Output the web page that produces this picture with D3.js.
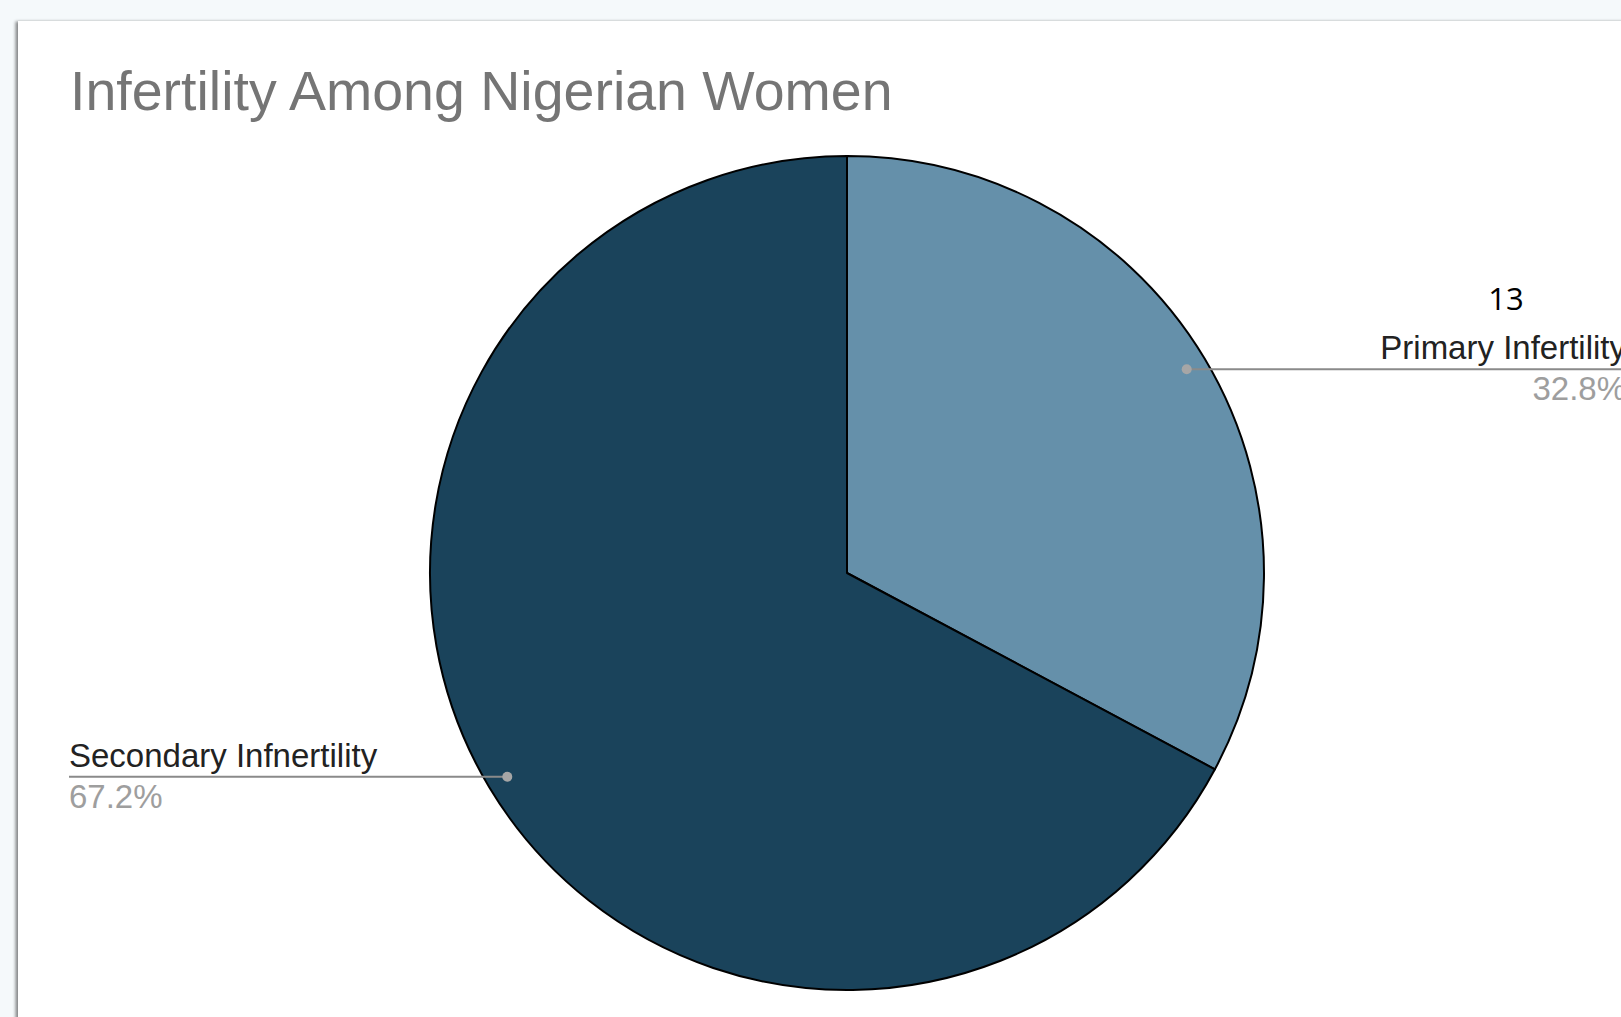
<!DOCTYPE html>
<html>
<head>
<meta charset="utf-8">
<script src="https://cdn.jsdelivr.net/npm/d3@7"></script>
<style>
  html, body { margin: 0; padding: 0; background: #f5f9fb; overflow: hidden; }
  svg { display: block; }
</style>
</head>
<body>
<svg id="chart"></svg>
<script>
(function () {
    'use strict';

    var categories = ['Primary Infertility', 'Secondary Infnertility'];
    var values = [32.8, 67.2];
    var colours = ['#6590aa', '#1a435b'];
    var countLabel = '13';

    var width = 1621, height = 1017;

    var svg = d3.select('#chart')
        .attr('width', width)
        .attr('height', height);

    // card + shadow on the left
    var defs = svg.append('defs');
    var f = defs.append('filter').attr('id', 'shadow')
        .attr('x', '-5%').attr('y', '-5%').attr('width', '110%').attr('height', '110%');
    f.append('feDropShadow').attr('dx', -2.5).attr('dy', 0.5)
        .attr('stdDeviation', 1.6).attr('flood-color', '#000').attr('flood-opacity', 0.45);

    svg.append('rect')
        .attr('x', 18).attr('y', 21)
        .attr('width', width).attr('height', height)
        .attr('fill', '#ffffff')
        .attr('filter', 'url(#shadow)');

    svg.append('text')
        .attr('x', 70)
        .attr('y', 110)
        .style('font-family', '"Liberation Sans", Arial, sans-serif')
        .style('font-size', '55.5px')
        .style('fill', '#757575')
        .text('Infertility Among Nigerian Women');

    var cx = 847, cy = 573, r = 417;

    var data = categories.map((c, i) => ({ name: c, value: values[i], colour: colours[i] }));

    var pie = d3.pie().sort(null).value(d => d.value);
    var arcs = pie(data);

    var arc = d3.arc().innerRadius(0).outerRadius(r);
    var dotArc = d3.arc().innerRadius(r * 0.95).outerRadius(r * 0.95);

    var g = svg.append('g').attr('transform', `translate(${cx},${cy})`);

    g.selectAll('path.slice')
        .data(arcs)
        .enter()
        .append('path')
        .attr('class', 'slice')
        .attr('d', arc)
        .style('fill', d => d.data.colour)
        .style('stroke', '#000')
        .style('stroke-width', 2)
        .style('stroke-linejoin', 'round');

    var labelFont = '"Liberation Sans", Arial, sans-serif';
    var leftX = 69, rightX = 1626;

    arcs.forEach(d => {
        var p = dotArc.centroid(d);
        var px = cx + p[0], py = cy + p[1];
        var right = p[0] > 0;
        var tx = right ? rightX : leftX;
        var anchor = right ? 'end' : 'start';

        svg.append('line')
            .attr('x1', px).attr('y1', py)
            .attr('x2', tx).attr('y2', py)
            .style('stroke', '#8a8a8a')
            .style('stroke-width', 2);

        svg.append('circle')
            .attr('cx', px).attr('cy', py).attr('r', 5)
            .style('fill', '#a6a6a6');

        svg.append('text')
            .attr('x', tx).attr('y', py - 10)
            .style('text-anchor', anchor)
            .style('font-family', labelFont)
            .style('font-size', '33px')
            .style('fill', '#222222')
            .text(d.data.name);

        svg.append('text')
            .attr('x', tx).attr('y', py + 31)
            .style('text-anchor', anchor)
            .style('font-family', labelFont)
            .style('font-size', '33px')
            .style('fill', '#9e9e9e')
            .text(d3.format('.1f')(d.data.value) + '%');

        if (right) {
            svg.append('text')
                .attr('x', 1506).attr('y', py - 59)
                .style('text-anchor', 'middle')
                .style('font-family', '"Open Sans", "Noto Sans", sans-serif')
                .style('font-size', '31px')
                .style('fill', '#000')
                .text(countLabel);
        }
    });
}());
</script>
</body>
</html>
